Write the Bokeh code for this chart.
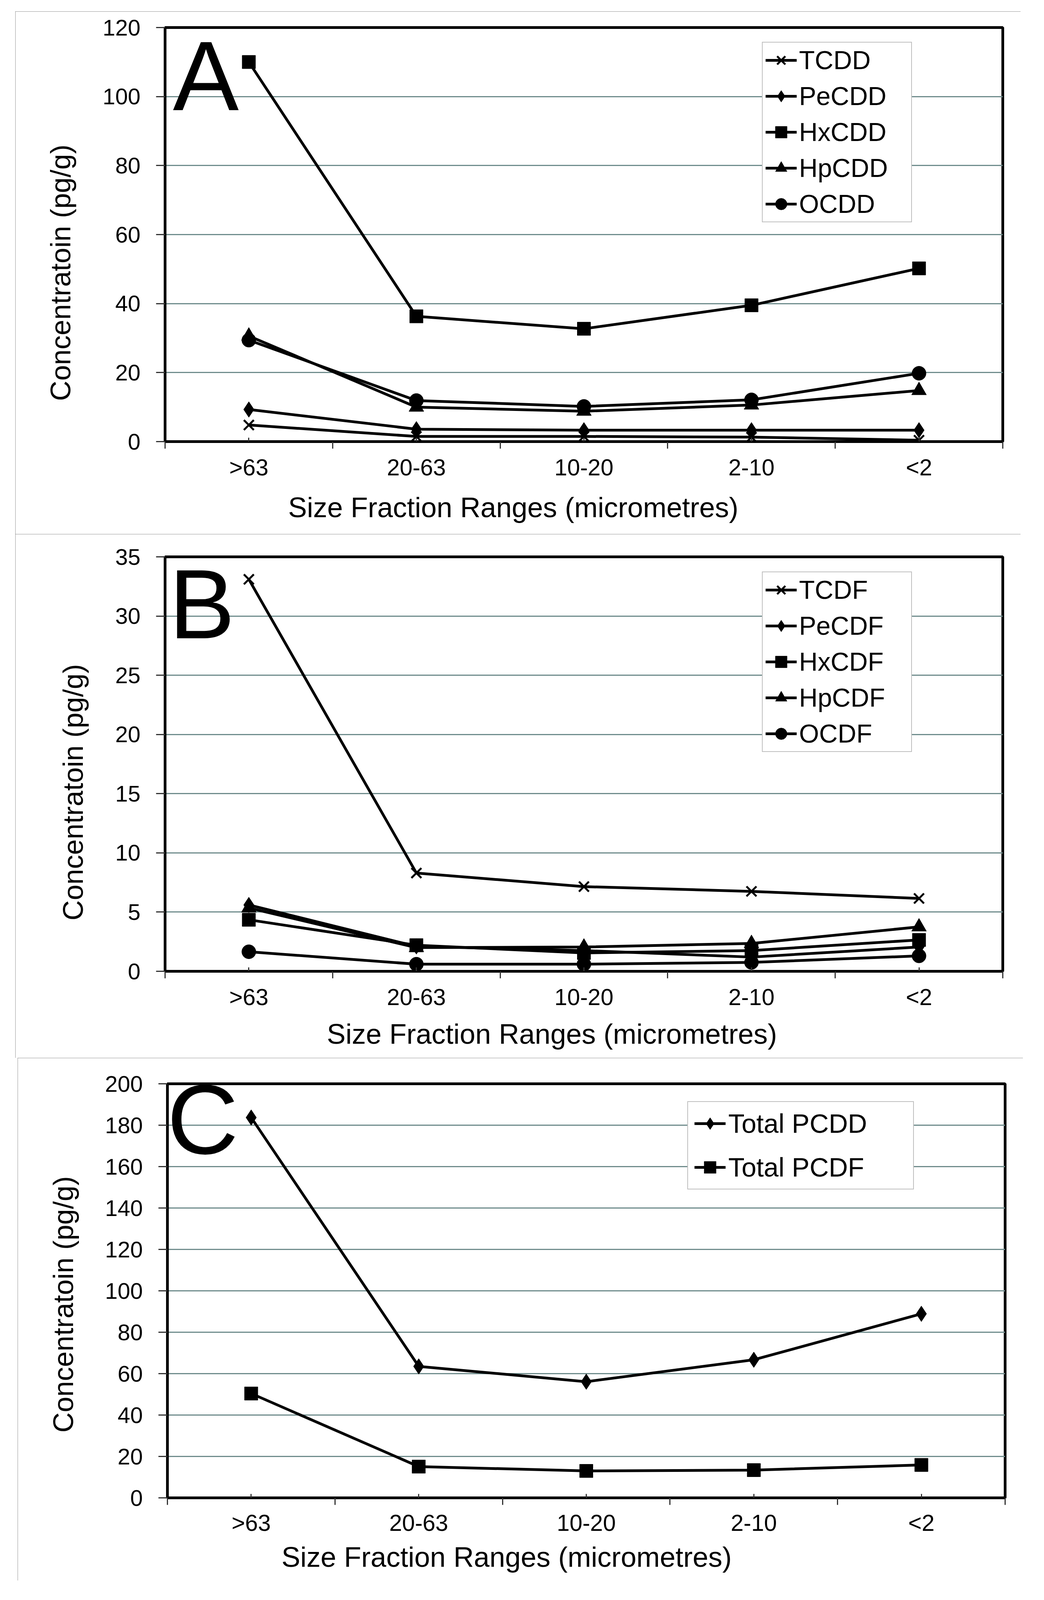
import math
from bokeh.plotting import figure
from bokeh.models import Range1d, FixedTicker, Label, Title
from bokeh.layouts import column
from bokeh.embed import file_html
from bokeh.resources import INLINE

# ---------------- data ----------------
categories = [">63", "20-63", "10-20", "2-10", "<2"]

a_names = ["TCDD", "PeCDD", "HxCDD", "HpCDD", "OCDD"]
tcdd = [4.8, 1.5, 1.5, 1.3, 0.4]
pecdd = [9.3, 3.6, 3.3, 3.3, 3.3]
hxcdd = [110.0, 36.3, 32.7, 39.5, 50.2]
hpcdd = [30.6, 10.0, 8.8, 10.6, 14.8]
ocdd = [29.4, 11.9, 10.2, 12.1, 19.8]

b_names = ["TCDF", "PeCDF", "HxCDF", "HpCDF", "OCDF"]
tcdf = [33.1, 8.3, 7.15, 6.75, 6.15]
pecdf = [5.6, 2.1, 1.75, 1.2, 2.05]
hxcdf = [4.35, 2.2, 1.55, 1.75, 2.65]
hpcdf = [5.35, 2.0, 2.05, 2.35, 3.75]
ocdf = [1.65, 0.6, 0.6, 0.75, 1.3]

c_names = ["Total PCDD", "Total PCDF"]
total_pcdd = [183.7, 63.5, 56.1, 66.7, 88.9]
total_pcdf = [50.4, 15.1, 13.0, 13.4, 15.9]

yticks_a = [0, 20, 40, 60, 80, 100, 120]
yticks_b = [0, 5, 10, 15, 20, 25, 30, 35]
yticks_c = [0, 20, 40, 60, 80, 100, 120, 140, 160, 180, 200]

x_title = "Size Fraction Ranges (micrometres)"
y_title = "Concentratoin (pg/g)"

FONT = "Liberation Sans"
GRID = "#6f8c8c"

MARKERS = {
    "x": dict(size=36, line_width=5),
    "diamond": dict(size=40, line_width=1),
    "square": dict(size=34, line_width=1),
    "triangle": dict(size=38, line_width=1),
    "circle": dict(size=36, line_width=1),
}


def make_panel(width, height, left, right, top, bottom, yticks, series, names,
               markers, letter, letter_off, ytitle_cfg, xtitle_cfg, legend_loc,
               legend_cfg, xstandoff):
    ymax = yticks[-1]
    nx = len(categories)
    fw = width - left - right
    fh = height - top - bottom
    pxx = fw / nx
    pxy = fh / ymax

    p = figure(width=width, height=height, output_backend="svg",
               toolbar_location=None, tools="",
               x_range=Range1d(0.5, nx + 0.5), y_range=Range1d(0, ymax),
               min_border_left=left, min_border_right=right,
               min_border_top=top, min_border_bottom=bottom)
    p.background_fill_color = "white"
    p.border_fill_color = "white"
    p.outline_line_color = "black"
    p.outline_line_width = 7
    p.styles = {"outline": "3px solid #777777", "outline-offset": "-3px"}

    # grid
    p.xgrid.visible = False
    p.ygrid.grid_line_color = GRID
    p.ygrid.grid_line_width = 3

    # y axis
    ya = p.yaxis[0]
    ya.ticker = FixedTicker(ticks=yticks)
    ya.axis_line_color = "black"
    ya.axis_line_width = 7
    ya.major_tick_out = 23
    ya.major_tick_in = 0
    ya.major_tick_line_color = "#333333"
    ya.major_tick_line_width = 3
    ya.minor_tick_line_color = None
    ya.major_label_text_font = FONT
    ya.major_label_text_font_size = "58px"
    ya.major_label_text_color = "black"
    ya.major_label_standoff = 40

    # x axis
    xs = list(range(1, nx + 1))
    xa = p.xaxis[0]
    xa.ticker = FixedTicker(ticks=xs, minor_ticks=[i + 0.5 for i in range(0, nx + 1)])
    xa.major_label_overrides = {i + 1: c for i, c in enumerate(categories)}
    xa.axis_line_color = "black"
    xa.axis_line_width = 7
    xa.major_tick_in = 10
    xa.major_tick_out = 0
    xa.major_tick_line_color = "#333333"
    xa.major_tick_line_width = 3
    xa.minor_tick_in = 0
    xa.minor_tick_out = 18
    xa.minor_tick_line_color = "#333333"
    xa.minor_tick_line_width = 3
    xa.major_label_text_font = FONT
    xa.major_label_text_font_size = "59px"
    xa.major_label_text_color = "black"
    xa.major_label_standoff = xstandoff

    # data
    for vals, name, mk in zip(series, names, markers):
        p.line(xs, vals, line_color="black", line_width=7, legend_label=name)
        cfg = MARKERS[mk]
        p.scatter(xs, vals, marker=mk, size=cfg["size"], fill_color="black",
                  line_color="black", line_width=cfg["line_width"], legend_label=name)

    lg = p.legend[0]
    lg.location = legend_loc
    lg.background_fill_color = "white"
    lg.background_fill_alpha = 1.0
    lg.border_line_color = "#808080"
    lg.border_line_width = 2
    lg.label_text_font = FONT
    lg.label_text_font_size = legend_cfg["font"]
    lg.label_text_color = "black"
    lg.padding = legend_cfg["padding"]
    lg.spacing = legend_cfg["spacing"]
    lg.glyph_width = 80
    lg.glyph_height = legend_cfg["item_h"]
    lg.label_height = legend_cfg["item_h"]
    lg.label_width = legend_cfg["label_w"]
    lg.label_standoff = legend_cfg["standoff"]
    lg.margin = 0

    # panel letter (inside the frame)
    p.add_layout(Label(x=0.5 + letter_off[0] / pxx, y=ymax - letter_off[1] / pxy,
                       text=letter, text_font=FONT, text_font_size="253px",
                       text_color="black", text_align="left",
                       text_baseline="alphabetic"))

    # axis titles as side-panel titles
    yt_offset, yt_standoff = ytitle_cfg
    p.add_layout(Title(text=y_title, align="left", vertical_align="bottom",
                       offset=yt_offset, standoff=yt_standoff, text_font=FONT,
                       text_font_size="72px", text_font_style="normal",
                       text_color="black"), "left")
    xt_offset, xt_standoff = xtitle_cfg
    p.add_layout(Title(text=x_title, align="left", vertical_align="top",
                       offset=xt_offset, standoff=xt_standoff, text_font=FONT,
                       text_font_size="72px", text_font_style="normal",
                       text_color="black"), "below")
    return p


leg_ab = dict(font="66px", padding=7, spacing=16, item_h=74, label_w=280, standoff=6)
leg_c = dict(font="68px", padding=16, spacing=34, item_h=76, label_w=457, standoff=7)

pA = make_panel(2573, 1338, 376, 45, 41, 237, yticks_a,
                [tcdd, pecdd, hxcdd, hpcdd, ocdd], a_names,
                ["x", "diamond", "square", "triangle", "circle"],
                "A", (20, 124), (104, 130), (315, 52), (1528, 561), leg_ab, 15)
pB = make_panel(2573, 1341, 383, 39, 58, 222, yticks_b,
                [tcdf, pecdf, hxcdf, hpcdf, ocdf], b_names,
                ["x", "diamond", "square", "triangle", "circle"],
                "B", (10, 121), (130, 130), (414, 36), (1528, 561), leg_ab, 15)
pC = make_panel(2573, 1338, 375, 46, 66, 212, yticks_c,
                [total_pcdd, total_pcdf], c_names,
                ["diamond", "square"],
                "C", (-1, 92), (167, 128), (292, 22), (1331, 789), leg_c, 13)

pA.margin = (0, 0, 0, 0)
pB.margin = (0, 0, 0, 0)
pC.margin = (0, 0, 0, 6)

layout = column(pA, pB, pC, spacing=0, margin=(29, 0, 0, 39))

open("out.html", "w").write(file_html(layout, INLINE))
